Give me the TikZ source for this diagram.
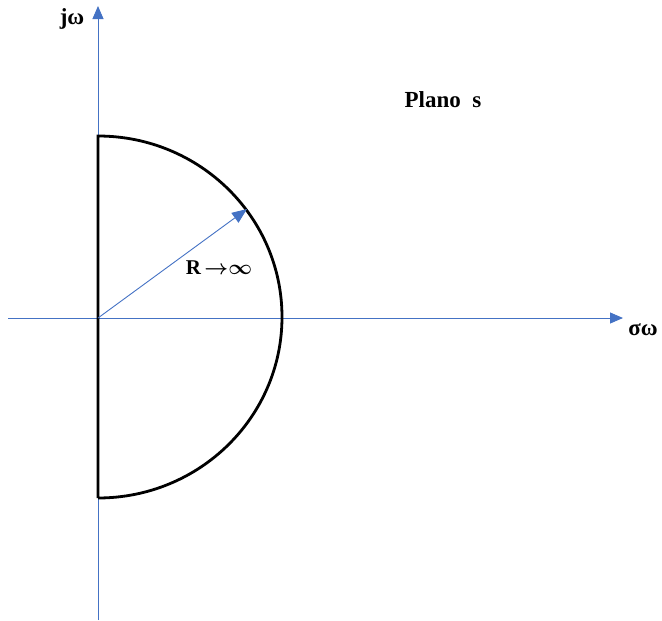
\documentclass[tikz,border=0pt]{standalone}
\usepackage{fontspec}
\setmainfont{Liberation Serif}
\usetikzlibrary{arrows.meta}
\definecolor{axisblue}{RGB}{68,114,196}
\tikzset{
  axis/.style={draw=axisblue,line width=0.9pt,-{Triangle[length=13pt,width=11pt]}},
  contour/.style={draw=black,line width=2.8pt},
  lbl/.style={font=\bfseries\boldmath\fontsize{23}{26}\selectfont,inner sep=0pt}
}
\begin{document}
\begin{tikzpicture}[x=1pt,y=-1pt]
\useasboundingbox (0,0) rectangle (662,621);

\coordinate (o) at (98,318);
\coordinate (xl) at (8,318);
\coordinate (xr) at (623,318);
\coordinate (yb) at (98,620);
\coordinate (yt) at (98,6);
\coordinate (top) at (98,136);
\coordinate (bot) at (98,498);
\coordinate (rtip) at (247,209);

% axes
\draw[axis] (xl) -- (xr);
\draw[axis] (yb) -- (yt);

% contour
\draw[contour] (bot) -- (top) arc[start angle=90,end angle=-90,x radius=184,y radius=-181];

% radius
\draw[axis,-{Triangle[length=15pt,width=12pt]}] (o) -- (rtip);

\node[lbl] (jw) at (72,19) {jω};
\node[lbl] (sw) at (643,330) {σω};
\node[lbl,font=\bfseries\boldmath\fontsize{21}{24}\selectfont] (rinf) at (219,268) {R\,${\rightarrow}{\infty}$};
\node[lbl] (plano) at (443,100) {Plano\ \ s};
\end{tikzpicture}
\end{document}
